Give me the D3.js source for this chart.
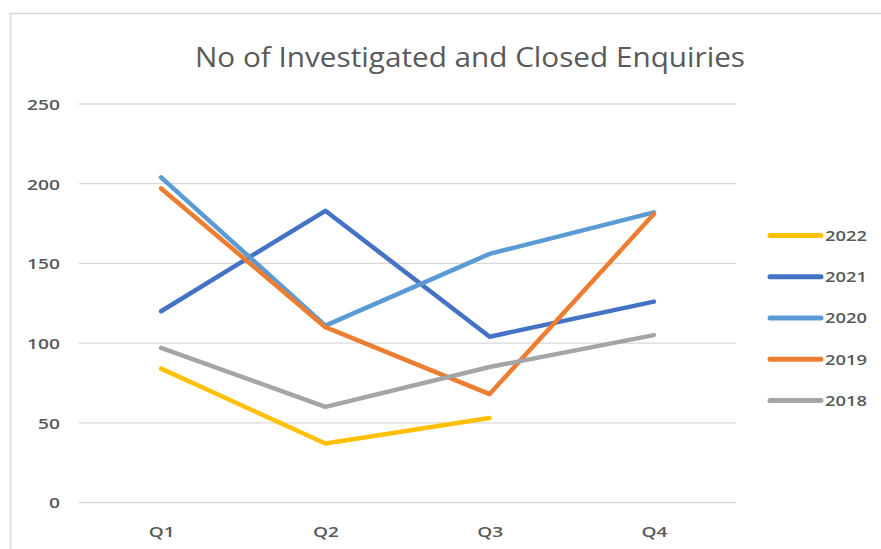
<!DOCTYPE html>
<html><head><meta charset="utf-8">
<script src="https://cdn.jsdelivr.net/npm/d3@7"></script>
<style>body{margin:0;background:#fff}svg{display:block}text{font-family:"Open Sans",sans-serif}</style>
</head><body>
<script>
const quarters = ["Q1","Q2","Q3","Q4"];
const seriesNames = ["2022","2021","2020","2019","2018"];
const seriesColors = ["#FFC000","#4472C4","#5B9BD5","#ED7D31","#A5A5A5"];
const values2022 = [84, 37, 53, null];
const values2021 = [120, 183, 104, 126];
const values2020 = [204, 111, 156, 182];
const values2019 = [197, 110, 68, 181];
const values2018 = [97, 60, 85, 105];
const yTicks = [0, 50, 100, 150, 200, 250];
const title = "No of Investigated and Closed Enquiries";

const allValues = [values2022, values2021, values2020, values2019, values2018];
const W = 881, H = 549;
const svg = d3.select("body").append("svg").attr("width", W).attr("height", H);

// chart border
svg.append("rect").attr("x", 10.5).attr("y", 13.5).attr("width", 900).attr("height", 600)
  .attr("fill", "none").attr("stroke", "#d9d9d9").attr("stroke-width", 1.5);

const x = d3.scalePoint().domain(quarters).range([79, 736]).padding(0.5);
const y = d3.scaleLinear().domain([0, 250]).range([502.5, 104]);

// gridlines
svg.append("g").selectAll("line").data(yTicks).join("line")
  .attr("x1", 79).attr("x2", 736)
  .attr("y1", d => y(d)).attr("y2", d => y(d))
  .attr("stroke", "#d9d9d9").attr("stroke-width", 1.3);

// y axis labels
const yAxis = d3.axisLeft(y).tickValues(yTicks).tickSize(0).tickPadding(0);
const gy = svg.append("g").attr("transform", "translate(60,0)").call(yAxis);
gy.select(".domain").remove();
gy.selectAll("text").attr("fill", "#595959").attr("font-size", 15).attr("font-weight", 600)
  .attr("dy", "0.36em")
  .each(function(){ const s = String(this.textContent); d3.select(this).attr("textLength", s.length*11).attr("lengthAdjust","spacingAndGlyphs"); });

// x axis labels
const xAxis = d3.axisBottom(x).tickSize(0).tickPadding(0);
const gx = svg.append("g").attr("transform", "translate(0,537)").call(xAxis);
gx.select(".domain").remove();
gx.selectAll("text").attr("fill", "#595959").attr("font-size", 15).attr("font-weight", 600)
  .attr("dy", 0).attr("textLength", 26).attr("lengthAdjust","spacingAndGlyphs");

// lines
const line = d3.line().defined(d => d.v != null).x(d => x(d.q)).y(d => y(d.v));
seriesNames.forEach((name, i) => {
  const data = quarters.map((q, j) => ({q, v: allValues[i][j]}));
  svg.append("path").datum(data).attr("d", line)
    .attr("fill", "none").attr("stroke", seriesColors[i]).attr("stroke-width", 4.5)
    .attr("stroke-linejoin", "round").attr("stroke-linecap", "round");
});

// legend
const legendY = d3.scalePoint().domain(seriesNames).range([235.5, 400.5]);
const lg = svg.append("g");
seriesNames.forEach((name, i) => {
  const yy = legendY(name);
  lg.append("line").attr("x1", 770).attr("x2", 821).attr("y1", yy).attr("y2", yy)
    .attr("stroke", seriesColors[i]).attr("stroke-width", 5).attr("stroke-linecap", "round");
  lg.append("text").attr("x", 825).attr("y", yy).attr("dy", "0.36em")
    .attr("fill", "#595959").attr("font-size", 15).attr("font-weight", 600)
    .attr("textLength", 42).attr("lengthAdjust","spacingAndGlyphs").text(name);
});

// title
svg.append("text").attr("x", 470).attr("y", 67).attr("text-anchor", "middle")
  .attr("fill", "#595959").attr("font-size", 27)
  .attr("textLength", 550).attr("lengthAdjust","spacingAndGlyphs").text(title);
</script>
</body></html>
